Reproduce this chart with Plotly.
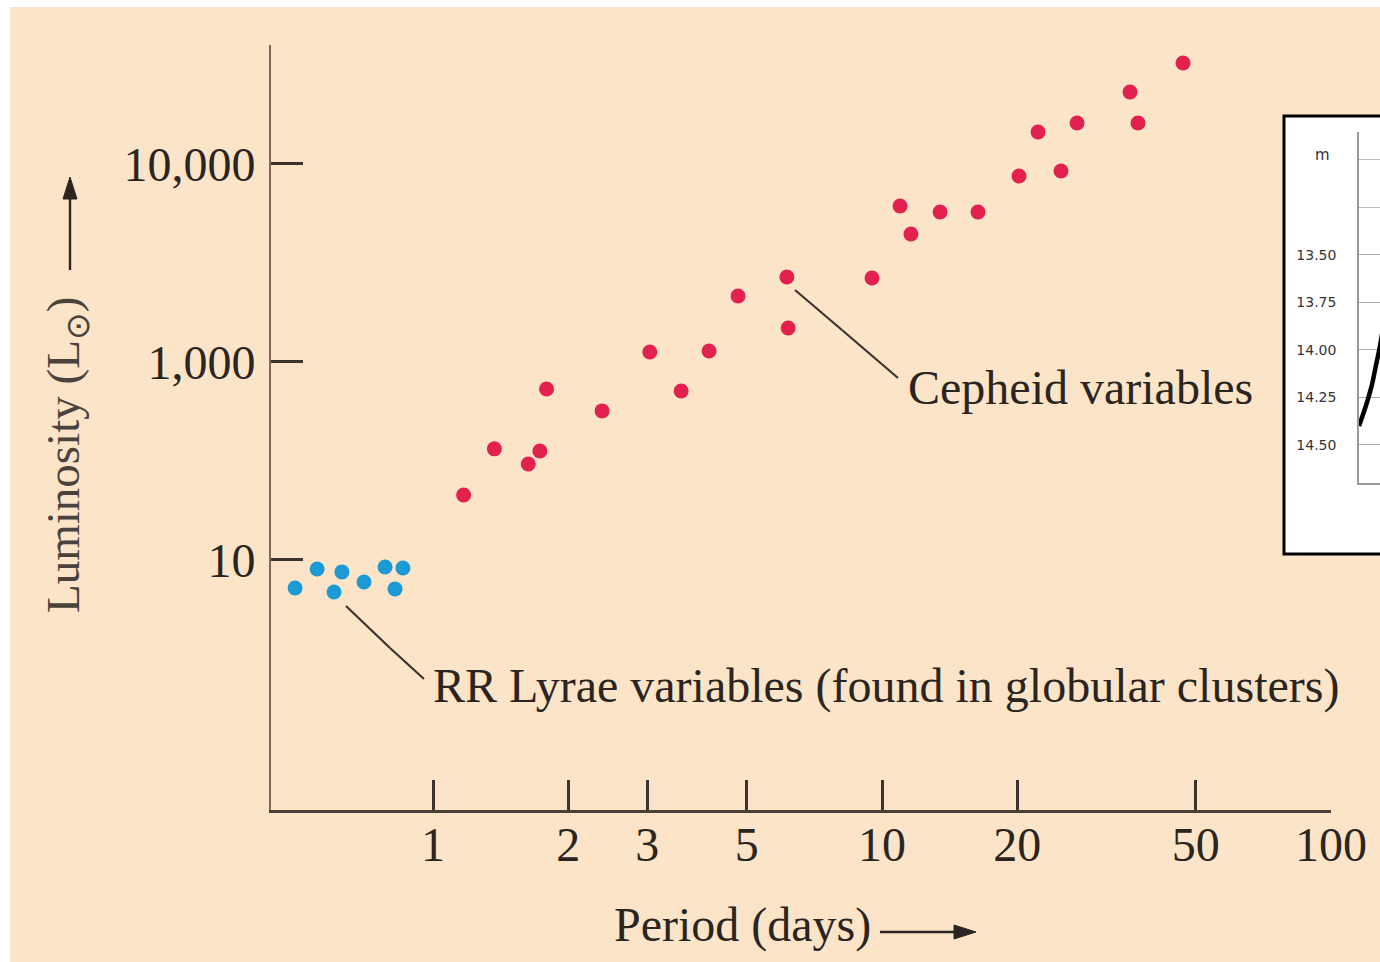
import plotly.graph_objects as go

# Cepheid variables: period (days) and luminosity (solar units)
cepheid_period = [1.17, 1.37, 1.63, 1.73, 1.79, 2.38, 3.04, 3.57, 4.12, 4.78,
                  6.14, 6.18, 9.50, 10.97, 11.60, 13.47, 16.36, 20.19, 22.26,
                  25.04, 27.19, 35.67, 37.17, 46.82]
cepheid_lum = [213, 364, 305, 355, 730, 566, 1123, 714, 1136, 2154,
               2688, 1485, 2656, 6136, 4431, 5722, 5722, 8697, 14507,
               9218, 16112, 23101, 16112, 32367]

# RR Lyrae variables
rrlyrae_period = [0.493, 0.552, 0.602, 0.627, 0.702, 0.782, 0.823, 0.857]
rrlyrae_lum = [72.2, 90.0, 68.9, 87.0, 77.4, 92.2, 71.4, 91.1]

# axis ticks
x_ticks = [1, 2, 3, 5, 10, 20, 50, 100]
x_ticktext = ["1", "2", "3", "5", "10", "20", "50", "100"]
y_ticks = [100, 1000, 10000]
y_ticktext = ["10", "1,000", "10,000"]

# light curve in the inset (phase, apparent magnitude)
curve_phase = [0.0, 0.012, 0.021, 0.031, 0.040, 0.05, 0.056]
curve_mag = [14.40, 14.324, 14.261, 14.181, 14.085, 13.979, 13.90]
inset_ticks = [13.50, 13.75, 14.00, 14.25, 14.50]
inset_ticktext = ["13.50", "13.75", "14.00", "14.25", "14.50"]
inset_extra_grid = [13.00, 13.25]

W, H = 1380, 962
L, R, T, B = 271, 0, 45, 152
PW = W - L - R
PH = H - T - B


def px(x):
    return (x - L) / PW


def py(y):
    return (H - B - y) / PH


BG = "#fce4c8"
INK = "#2b2521"
SERIF = "Liberation Serif"

fig = go.Figure()

fig.add_trace(go.Scatter(
    x=cepheid_period, y=cepheid_lum, mode="markers",
    marker=dict(size=15, color="#e2214f", line=dict(width=0)),
    xaxis="x", yaxis="y", showlegend=False, hoverinfo="skip"))
fig.add_trace(go.Scatter(
    x=rrlyrae_period, y=rrlyrae_lum, mode="markers",
    marker=dict(size=15, color="#1b9ad6", line=dict(width=0)),
    xaxis="x", yaxis="y", showlegend=False, hoverinfo="skip"))
fig.add_trace(go.Scatter(
    x=curve_phase, y=curve_mag, mode="lines",
    line=dict(color="black", width=4.5, shape="spline"),
    xaxis="x2", yaxis="y2", showlegend=False, hoverinfo="skip",
    cliponaxis=True))

shapes = [
    # page background
    dict(type="rect", xref="paper", yref="paper",
         x0=px(10), x1=px(W + 20), y0=py(H + 20), y1=py(7),
         fillcolor=BG, line=dict(width=0), layer="below"),
    # inset frame
    dict(type="rect", xref="paper", yref="paper",
         x0=px(1284), x1=px(W + 30), y0=py(554), y1=py(116),
         fillcolor="white", line=dict(color="black", width=3), layer="below"),
]


def seg(xa, ya, xb, yb, color="#3a332e", width=2.2):
    return dict(type="line", xref="paper", yref="paper",
                x0=px(xa), y0=py(ya), x1=px(xb), y1=py(yb),
                line=dict(color=color, width=width))


def tri(points, color="#2b2521"):
    path = "M " + " L ".join(f"{px(a):.5f},{py(b):.5f}" for a, b in points) + " Z"
    return dict(type="path", xref="paper", yref="paper", path=path,
                fillcolor=color, line=dict(color=color, width=1))


# leader lines for the two labels
for pts in ([(795, 290), (842, 330), (898, 378)],
            [(346, 606), (390, 648), (424, 679)]):
    for (xa, ya), (xb, yb) in zip(pts[:-1], pts[1:]):
        shapes.append(seg(xa, ya, xb, yb))

# arrows next to the axis titles
shapes.append(seg(70, 196, 70, 270, color="#2b2521", width=2.4))
shapes.append(tri([(70, 177), (63, 199), (77, 199)]))
shapes.append(seg(880, 932, 957, 932, color="#2b2521", width=2.4))
shapes.append(tri([(976, 932), (954, 925), (954, 939)]))

annotations = [
    dict(text="Luminosity (L<sub>⊙</sub>)", xref="paper", yref="paper",
         x=px(66), y=py(455), textangle=-90, showarrow=False,
         xanchor="center", yanchor="middle",
         font=dict(family=SERIF, size=47, color="#4a423c")),
    dict(text="Period (days)", xref="paper", yref="paper",
         x=px(742), y=py(925), showarrow=False,
         xanchor="center", yanchor="middle",
         font=dict(family=SERIF, size=48, color=INK)),
    dict(text="Cepheid variables", xref="paper", yref="paper",
         x=px(906), y=py(388), showarrow=False,
         xanchor="left", yanchor="middle",
         font=dict(family=SERIF, size=48, color=INK)),
    dict(text="RR Lyrae variables (found in globular clusters)",
         xref="paper", yref="paper", x=px(431), y=py(686), showarrow=False,
         xanchor="left", yanchor="middle",
         font=dict(family=SERIF, size=48, color=INK)),
    dict(text="m", xref="paper", yref="paper", x=px(1322), y=py(155),
         showarrow=False, xanchor="center", yanchor="middle",
         font=dict(family="DejaVu Sans", size=15, color="#333")),
]

fig.update_layout(
    width=W, height=H,
    margin=dict(l=L, r=R, t=T, b=B, pad=0, autoexpand=False),
    paper_bgcolor="white", plot_bgcolor="rgba(0,0,0,0)",
    shapes=shapes, annotations=annotations,
    xaxis=dict(type="log", domain=[0, px(1331)], range=[-0.3608, 2.0],
               anchor="y", tickvals=x_ticks, ticktext=x_ticktext,
               ticks="inside", ticklen=30, tickwidth=2.5, tickcolor="#3a332e",
               showline=True, linewidth=3, linecolor="#4a4038",
               showgrid=False, zeroline=False, ticklabelstandoff=-10,
               tickfont=dict(family=SERIF, size=48, color=INK)),
    yaxis=dict(type="log", domain=[0, 1], range=[0.737, 4.601],
               anchor="x", tickvals=y_ticks, ticktext=y_ticktext,
               ticks="inside", ticklen=32, tickwidth=2.5, tickcolor="#3a332e",
               showline=True, linewidth=2, linecolor="#7a6a5e",
               showgrid=False, zeroline=False, ticklabelstandoff=4,
               tickfont=dict(family=SERIF, size=48, color=INK)),
    xaxis2=dict(domain=[px(1359), 1.0], range=[0, 0.05], anchor="y2",
                showline=True, linewidth=1.5, linecolor="#999",
                showgrid=False, zeroline=False, showticklabels=False,
                ticks=""),
    yaxis2=dict(domain=[py(483), py(132)], range=[14.70, 12.853], anchor="x2",
                tickvals=inset_ticks, ticktext=inset_ticktext,
                showline=True, linewidth=1.5, linecolor="#999",
                showgrid=True, gridcolor="#aaa", gridwidth=1,
                minor=dict(tickvals=inset_extra_grid, showgrid=True,
                           gridcolor="#bbb", gridwidth=1, ticks=""),
                zeroline=False, ticks="", ticklabelstandoff=18,
                tickfont=dict(family="DejaVu Sans", size=14, color="#333")),
)

fig.write_html("out.html", config={"displayModeBar": False})
